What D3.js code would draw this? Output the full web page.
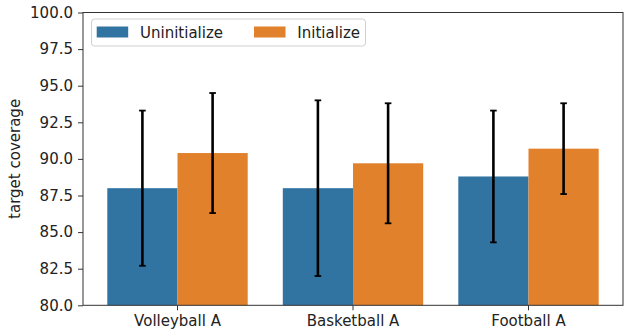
<!DOCTYPE html>
<html>
<head>
<meta charset="utf-8">
<script src="https://cdn.jsdelivr.net/npm/d3@7"></script>
<style>
  html, body { margin: 0; padding: 0; background: #fff; }
  svg { display: block; font-family: "DejaVu Sans", sans-serif; }
</style>
</head>
<body>
<svg id="chart" width="624" height="330"></svg>
<script>
// Sports categories on the x axis
const categories = ["Volleyball A", "Basketball A", "Football A"];
const seriesNames = ["Uninitialize", "Initialize"];
const seriesColors = ["#3274a1", "#e1812c"];

// Mean target coverage per category
const uninitMean = [88.0, 88.0, 88.8];
const initMean = [90.4, 89.7, 90.7];

// Error bar extents (low / high)
const uninitLow = [82.7, 82.0, 84.3];
const uninitHigh = [93.3, 94.0, 93.3];
const initLow = [86.3, 85.6, 87.6];
const initHigh = [94.5, 93.8, 93.8];

const yTicks = [80.0, 82.5, 85.0, 87.5, 90.0, 92.5, 95.0, 97.5, 100.0];

(function draw() {
  const series = [
    { name: seriesNames[0], color: seriesColors[0], mean: uninitMean, low: uninitLow, high: uninitHigh },
    { name: seriesNames[1], color: seriesColors[1], mean: initMean, low: initLow, high: initHigh }
  ];

  const svg = d3.select("#chart");
  const plotLeft = 83, plotRight = 623, plotTop = 12.5, plotBottom = 305.3;
  const fontSize = 15;

  const x = d3.scaleBand().domain(categories).range([plotLeft, plotRight]).paddingInner(0).paddingOuter(0.0385);
  const y = d3.scaleLinear().domain([80, 100]).range([plotBottom, plotTop]);
  // Two bars per group, filling the middle 80% of each band
  const sub = d3.scaleBand().domain(seriesNames).range([0, x.bandwidth()]).paddingOuter(0.25).paddingInner(0);

  // Bars
  series.forEach(s => {
    svg.append("g").selectAll("rect")
      .data(categories)
      .join("rect")
      .attr("x", (c) => x(c) + sub(s.name))
      .attr("y", (c, i) => y(s.mean[i]))
      .attr("width", sub.bandwidth())
      .attr("height", (c, i) => y(80) - y(s.mean[i]))
      .attr("fill", s.color);
  });

  // Error bars
  series.forEach(s => {
    const g = svg.append("g").attr("stroke", "#000").attr("stroke-width", 2.6);
    categories.forEach((c, i) => {
      const cx = x(c) + sub(s.name) + sub.bandwidth() / 2;
      g.append("line").attr("x1", cx).attr("x2", cx).attr("y1", y(s.low[i])).attr("y2", y(s.high[i]));
      [s.low[i], s.high[i]].forEach(v => {
        g.append("line").attr("x1", cx - 3.3).attr("x2", cx + 3.3).attr("y1", y(v)).attr("y2", y(v)).attr("stroke-width", 1.8);
      });
    });
  });

  // Y axis
  const yAxis = svg.append("g")
    .attr("transform", `translate(${plotLeft},0)`)
    .call(d3.axisLeft(y).tickValues(yTicks).tickFormat(d3.format(".1f")).tickSize(5).tickPadding(5));
  yAxis.select(".domain").remove();
  yAxis.selectAll("text").attr("font-size", fontSize).attr("font-family", "DejaVu Sans").attr("fill", "#222");
  yAxis.selectAll("line").attr("stroke", "#333");

  // X axis
  const xAxis = svg.append("g")
    .attr("transform", `translate(0,${plotBottom})`)
    .call(d3.axisBottom(x).tickSize(5).tickPadding(5));
  xAxis.select(".domain").remove();
  xAxis.selectAll("text").attr("font-size", fontSize).attr("font-family", "DejaVu Sans").attr("fill", "#222");
  xAxis.selectAll("line").attr("stroke", "#333");

  // Frame
  svg.append("rect")
    .attr("x", plotLeft).attr("y", plotTop)
    .attr("width", plotRight - plotLeft).attr("height", plotBottom - plotTop)
    .attr("fill", "none").attr("stroke", "#333").attr("stroke-width", 1);

  // Y label
  svg.append("text")
    .attr("transform", `translate(20,${(plotTop + plotBottom) / 2}) rotate(-90)`)
    .attr("text-anchor", "middle")
    .attr("font-size", fontSize)
    .attr("fill", "#222")
    .text("target coverage");

  // Legend
  const legend = svg.append("g");
  legend.append("rect")
    .attr("x", 91.5).attr("y", 19).attr("width", 274).attr("height", 27)
    .attr("rx", 3).attr("fill", "#fff").attr("fill-opacity", 0.8)
    .attr("stroke", "#d0d0d0").attr("stroke-width", 1);
  const legendX = [96.7, 254];
  series.forEach((s, i) => {
    legend.append("rect")
      .attr("x", legendX[i]).attr("y", 26.5).attr("width", 31.5).attr("height", 11)
      .attr("fill", s.color);
    legend.append("text")
      .attr("x", legendX[i] + 43.3).attr("y", 37.5)
      .attr("font-size", fontSize).attr("fill", "#222")
      .text(s.name);
  });
})();
</script>
</body>
</html>
